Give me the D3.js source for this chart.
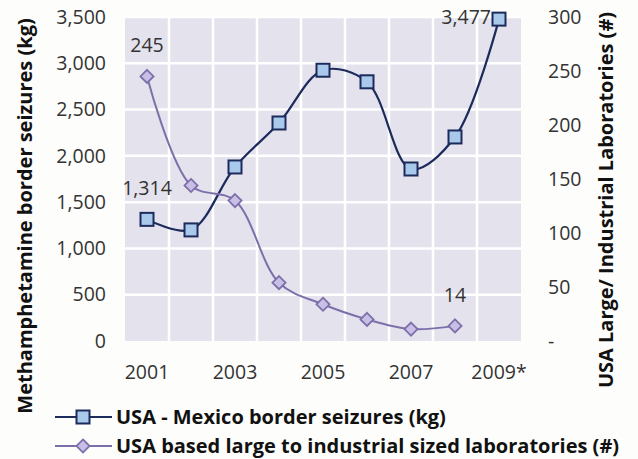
<!DOCTYPE html>
<html>
<head>
<meta charset="utf-8">
<script src="https://cdn.jsdelivr.net/npm/d3@7"></script>
<style>
  body { margin: 0; background: #fdfdfb; }
  svg { font-family: "Open Sans", "Noto Sans", sans-serif; }
</style>
</head>
<body>
<svg></svg>
<script>
// data
var years = ["2001", "2002", "2003", "2004", "2005", "2006", "2007", "2008", "2009*"];
var xTickLabels = ["2001", "2003", "2005", "2007", "2009*"];
var seizures = [1314, 1200, 1880, 2355, 2925, 2800, 1858, 2204, 3477];
var labYears = ["2001", "2002", "2003", "2004", "2005", "2006", "2007", "2008"];
var labs = [245, 144, 130, 54, 34, 20, 11, 14];
var leftTicks = [0, 500, 1000, 1500, 2000, 2500, 3000, 3500];
var rightTicks = [0, 50, 100, 150, 200, 250, 300];

var width = 638, height = 459;
var svg = d3.select("svg").attr("width", width).attr("height", height);

var plot = { left: 125, right: 521, top: 17, bottom: 341 };

var x = d3.scaleBand().domain(years).range([plot.left, plot.right]);
var yL = d3.scaleLinear().domain([0, 3500]).range([plot.bottom, plot.top]);
var yR = d3.scaleLinear().domain([0, 300]).range([plot.bottom, plot.top]);

var navy = "#1c2b5c", navyFill = "#a9c9ea";
var purple = "#7d70aa", purpleFill = "#c9bfe6";
var textCol = "#333";
var fs = "19.5px";

// plot background
svg.append("rect")
  .attr("x", plot.left).attr("y", plot.top)
  .attr("width", plot.right - plot.left).attr("height", plot.bottom - plot.top)
  .attr("fill", "#e4e3ed");

// gridlines
svg.append("g").selectAll("line").data(leftTicks.slice(1))
  .enter().append("line")
  .attr("x1", plot.left).attr("x2", plot.right)
  .attr("y1", d => yL(d)).attr("y2", d => yL(d))
  .attr("stroke", "#fff").attr("stroke-width", 2.5);
svg.append("g").selectAll("line").data(years.slice(1))
  .enter().append("line")
  .attr("x1", d => x(d)).attr("x2", d => x(d))
  .attr("y1", plot.top).attr("y2", plot.bottom)
  .attr("stroke", "#fff").attr("stroke-width", 2.5);

// axes
var axL = d3.axisLeft(yL).tickValues(leftTicks).tickSize(0).tickPadding(19)
  .tickFormat(d3.format(","));
var gL = svg.append("g").attr("transform", "translate(" + plot.left + ",0)").call(axL);

var axR = d3.axisRight(yR).tickValues(rightTicks).tickSize(0).tickPadding(27)
  .tickFormat(d => d === 0 ? "-" : d);
var gR = svg.append("g").attr("transform", "translate(" + plot.right + ",0)").call(axR);

var axB = d3.axisBottom(x).tickValues(xTickLabels).tickSize(0).tickPadding(24);
var gB = svg.append("g").attr("transform", "translate(0," + plot.bottom + ")").call(axB);

[gL, gR, gB].forEach(function (g) {
  g.select(".domain").remove();
  g.selectAll("text").attr("fill", textCol).style("font-size", fs)
    .style("font-family", "\"Open Sans\", \"Noto Sans\", sans-serif");
});

// axis titles
svg.append("text")
  .attr("transform", "translate(32,216) rotate(-90)")
  .attr("text-anchor", "middle")
  .style("font-size", "20px").style("font-weight", "bold").attr("fill", "#111")
  .text("Methamphetamine border seizures (kg)");
svg.append("text")
  .attr("transform", "translate(613,200) rotate(-90)")
  .attr("text-anchor", "middle")
  .style("font-size", "20px").style("font-weight", "bold").attr("fill", "#111")
  .text("USA Large/ Industrial Laboratories (#)");

var cx = d => x(d) + x.bandwidth() / 2;

// seizures line
var lineL = d3.line().x((d, i) => cx(years[i])).y(d => yL(d)).curve(d3.curveCatmullRom.alpha(0.5));
svg.append("path").datum(seizures).attr("d", lineL)
  .attr("fill", "none").attr("stroke", navy).attr("stroke-width", 2.2);

// labs line
var lineR = d3.line().x((d, i) => cx(labYears[i])).y(d => yR(d)).curve(d3.curveCatmullRom.alpha(0.5));
svg.append("path").datum(labs).attr("d", lineR)
  .attr("fill", "none").attr("stroke", purple).attr("stroke-width", 2);

var sq = 13;
svg.append("g").selectAll("rect").data(seizures).enter().append("rect")
  .attr("x", (d, i) => cx(years[i]) - sq / 2)
  .attr("y", d => yL(d) - sq / 2)
  .attr("width", sq).attr("height", sq)
  .attr("fill", navyFill).attr("stroke", navy).attr("stroke-width", 2);

var diamond = d3.symbol().type(d3.symbolDiamond2).size(110);
svg.append("g").selectAll("path").data(labs).enter().append("path")
  .attr("d", diamond)
  .attr("transform", (d, i) => "translate(" + cx(labYears[i]) + "," + yR(d) + ")")
  .attr("fill", purpleFill).attr("stroke", purple).attr("stroke-width", 1.8);

// data labels
function label(txt, px, py, anchor) {
  svg.append("text").attr("x", px).attr("y", py).attr("text-anchor", anchor || "middle")
    .attr("fill", textCol).style("font-size", fs).text(txt);
}
label("245", cx("2001"), yR(245) - 24);
label(d3.format(",")(seizures[0]), cx("2001"), yL(seizures[0]) - 24);
label(d3.format(",")(seizures[8]), cx("2009*") - 8, yL(seizures[8]) + 5, "end");
label("14", cx("2008"), yR(14) - 24);

// legend
var legend = [
  { name: "USA - Mexico border seizures (kg)", color: navy, fill: navyFill, kind: "sq" },
  { name: "USA based large to industrial sized laboratories (#)", color: purple, fill: purpleFill, kind: "dia" }
];
legend.forEach(function (d, i) {
  var ly = 417 + i * 29;
  var g = svg.append("g");
  g.append("line").attr("x1", 55).attr("x2", 112).attr("y1", ly).attr("y2", ly)
    .attr("stroke", d.color).attr("stroke-width", 2.2);
  if (d.kind === "sq") {
    g.append("rect").attr("x", 83 - sq / 2).attr("y", ly - sq / 2).attr("width", sq).attr("height", sq)
      .attr("fill", d.fill).attr("stroke", d.color).attr("stroke-width", 2);
  } else {
    g.append("path").attr("d", diamond).attr("transform", "translate(83," + ly + ")")
      .attr("fill", d.fill).attr("stroke", d.color).attr("stroke-width", 1.8);
  }
  g.append("text").attr("x", 116).attr("y", ly + 7)
    .style("font-size", "20px").style("font-weight", "bold").attr("fill", "#111")
    .text(d.name);
});
</script>
</body>
</html>
